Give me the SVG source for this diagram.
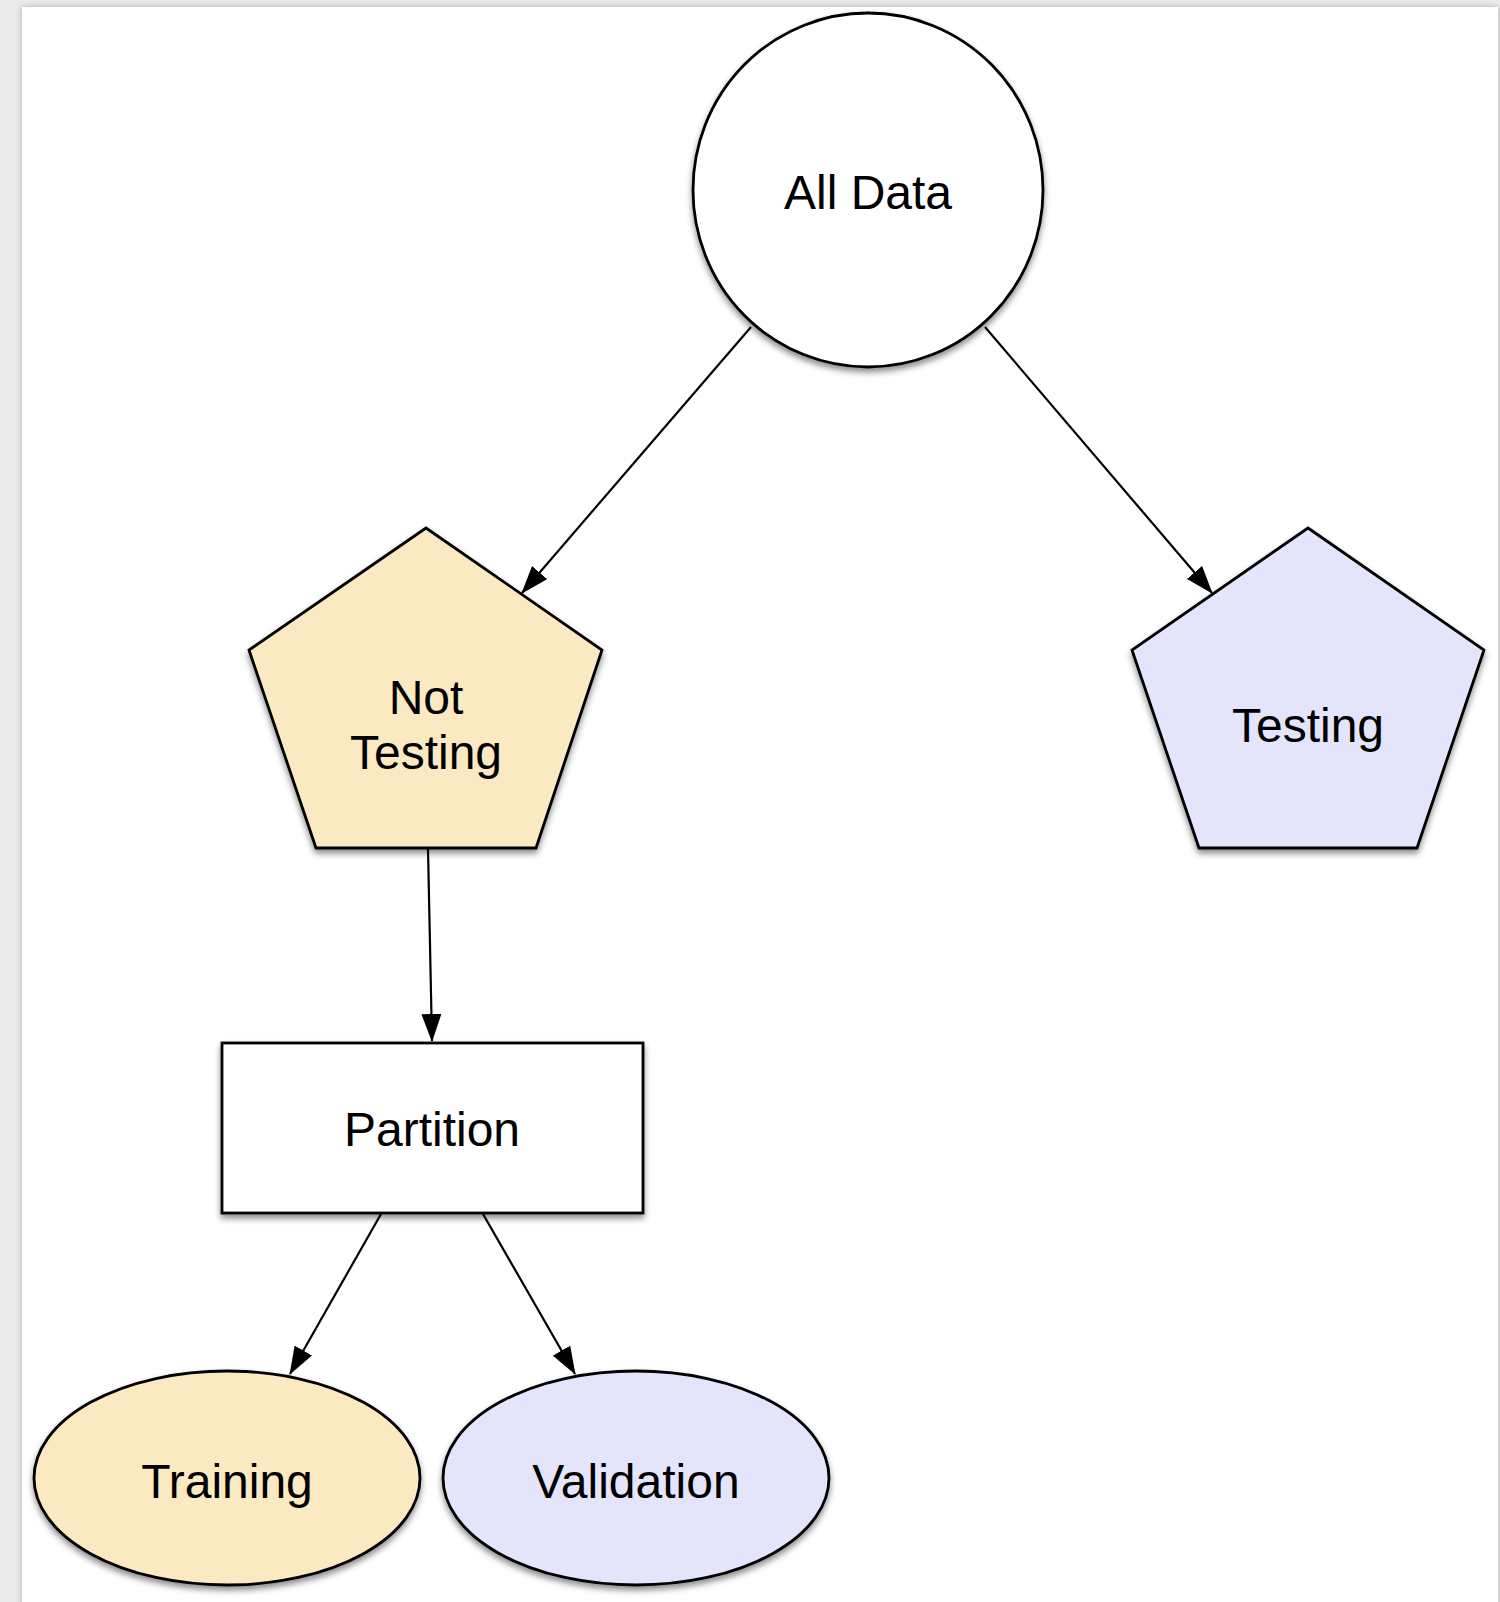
<svg xmlns="http://www.w3.org/2000/svg" width="1500" height="1602" viewBox="0 0 1500 1602">
<defs>
<style>
.shape{stroke:#000;stroke-width:2.8;filter:url(#sh)}
.lbl{font-family:"Liberation Sans",Arial,sans-serif;font-size:48px;fill:#000;text-anchor:middle}
.conn{stroke:#000;stroke-width:2.2;fill:none;marker-end:url(#ah)}
.beige{fill:#fbe9c1}
.lav{fill:#e4e4fa}
.white{fill:#fff}
</style>
<filter id="sh" x="-10%" y="-10%" width="120%" height="125%">
<feDropShadow dx="0" dy="4" stdDeviation="3" flood-color="#000" flood-opacity="0.45"/>
</filter>
<filter id="pg" x="-5%" y="-5%" width="110%" height="110%">
<feDropShadow dx="0" dy="0" stdDeviation="3" flood-color="#000" flood-opacity="0.25"/>
</filter>
<marker id="ah" markerUnits="userSpaceOnUse" markerWidth="28" markerHeight="20" viewBox="0 0 28 20" refX="27" refY="10" orient="auto">
<path d="M0,0 L28,10 L0,20 Z" fill="#000"/>
</marker>
</defs>
<rect x="0" y="0" width="1500" height="1602" fill="#ebebeb"/>
<rect x="22" y="7" width="1476" height="1620" fill="#fff" filter="url(#pg)"/>
<g id="connectors">
<line class="conn" x1="751" y1="327" x2="522" y2="593"/>
<line class="conn" x1="985" y1="327" x2="1212" y2="593"/>
<line class="conn" x1="428" y1="849" x2="432" y2="1041"/>
<line class="conn" x1="381" y1="1214" x2="290" y2="1374"/>
<line class="conn" x1="483" y1="1214" x2="575" y2="1374"/>
</g>
<g id="all-data">
<ellipse class="shape white" cx="868" cy="190" rx="175" ry="177"/>
<text class="lbl" x="868" y="209">All Data</text>
</g>
<g id="not-testing">
<polygon class="shape beige" points="426,528 602,650 536,848 316,848 249,650"/>
<text class="lbl" x="426" y="714">Not</text>
<text class="lbl" x="426" y="769">Testing</text>
</g>
<g id="testing">
<polygon class="shape lav" points="1308,528 1484,650 1417,848 1199,848 1132,650"/>
<text class="lbl" x="1308" y="742">Testing</text>
</g>
<g id="partition">
<rect class="shape white" x="222" y="1043" width="421" height="170"/>
<text class="lbl" x="432" y="1146">Partition</text>
</g>
<g id="training">
<ellipse class="shape beige" cx="227" cy="1478" rx="193" ry="107"/>
<text class="lbl" x="227" y="1498">Training</text>
</g>
<g id="validation">
<ellipse class="shape lav" cx="636" cy="1478" rx="193" ry="107"/>
<text class="lbl" x="636" y="1498">Validation</text>
</g>
</svg>
